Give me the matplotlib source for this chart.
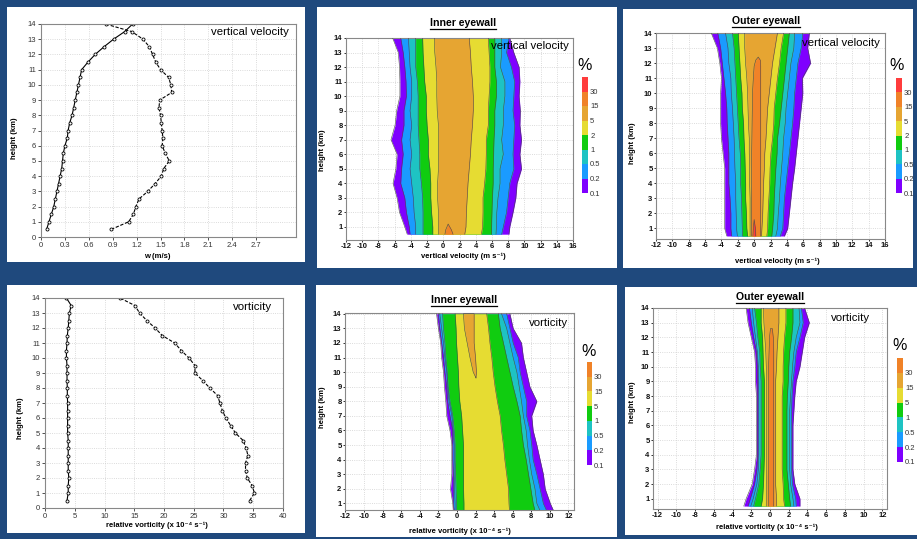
import numpy as np
import matplotlib
matplotlib.use('Agg')
import matplotlib.pyplot as plt
from matplotlib.patches import Rectangle
from matplotlib.lines import Line2D

plt.rcParams['font.family'] = ['Liberation Sans', 'DejaVu Sans']
plt.rcParams['axes.unicode_minus'] = False

W, H = 917, 539
BG = '#1F497D'

# ---------------- mean profiles (left column) ----------------
h_prof = [0.5, 1, 1.5, 2, 2.5, 3, 3.5, 4, 4.5, 5, 5.5, 6, 6.5, 7, 7.5,
          8, 8.5, 9, 9.5, 10, 10.5, 11, 11.5, 12, 12.5, 13, 13.5, 14]
w_left = [0.07, 0.10, 0.13, 0.16, 0.18, 0.20, 0.22, 0.24, 0.26, 0.27, 0.28, 0.30, 0.33, 0.34,
          0.36, 0.39, 0.41, 0.43, 0.45, 0.47, 0.49, 0.51, 0.59, 0.68, 0.79, 0.91, 1.05, 1.15]
w_right = [0.88, 1.10, 1.16, 1.19, 1.23, 1.34, 1.43, 1.51, 1.54, 1.61, 1.56, 1.52, 1.53, 1.52,
           1.51, 1.50, 1.48, 1.49, 1.64, 1.63, 1.60, 1.50, 1.44, 1.40, 1.36, 1.28, 1.14, 0.81]
vort_left = [3.7, 3.9, 3.9, 4.0, 3.9, 3.9, 3.9, 3.9, 3.9, 3.8, 3.8, 3.8, 3.8, 3.8,
             3.75, 3.75, 3.7, 3.7, 3.7, 3.6, 3.6, 3.7, 3.75, 3.9, 4.0, 4.1, 4.4, 3.6]
vort_right = [34.4, 35.2, 34.8, 34.0, 33.7, 33.7, 34.1, 33.8, 33.3, 32.0, 31.2, 30.4, 29.8, 29.4,
              29.0, 27.7, 26.5, 25.2, 25.2, 24.2, 22.9, 21.8, 19.7, 18.5, 17.1, 15.9, 15.1, 12.6]
w_ticks = [0, 0.3, 0.6, 0.9, 1.2, 1.5, 1.8, 2.1, 2.4, 2.7]
w_ticklabels = ['0', '0.3', '0.6', '0.9', '1.2', '1.5', '1.8', '2.1', '2.4', '2.7']

# ---------------- CFAD contour edges (left/right edge of each band at h_cfad) ----------------
h_cfad = [0.5, 1, 2, 3, 4, 5, 6, 7, 8, 9, 10, 11, 12, 13, 14]

levels_w = ['0.1', '0.2', '0.5', '1', '2', '5', '15', '30']
colors_w = ['#7F00FF', '#1A9BFF', '#1EC3C3', '#10CC10', '#E6DC32', '#E6A532', '#F08228', '#FF3C3C']
levels_v = ['0.1', '0.2', '0.5', '1', '5', '15', '30']
colors_v = ['#7F00FF', '#1A9BFF', '#1EC3C3', '#10CC10', '#E6DC32', '#E6A532', '#F08228']

# inner eyewall, vertical velocity (bands 0.1 .. 5)
inner_w_left = [
    [-4.45, -4.75, -5.4, -5.7, -6.2, -5.85, -5.7, -6.45, -5.95, -5.75, -5.35, -5.35, -5.4, -5.55, -6.25],
    [-4.1, -4.2, -4.55, -4.75, -5.25, -5.15, -4.95, -5.15, -4.85, -4.85, -4.55, -4.6, -4.75, -4.95, -5.25],
    [-3.4, -3.4, -3.6, -3.7, -3.9, -4.1, -3.9, -4.1, -3.9, -4.1, -3.9, -3.9, -4.1, -4.2, -4.3],
    [-2.5, -2.5, -2.5, -2.55, -2.7, -2.9, -2.9, -3.0, -3.1, -3.1, -3.1, -3.2, -3.4, -3.4, -3.4],
    [-1.3, -1.3, -1.45, -1.55, -1.55, -1.65, -1.85, -1.85, -2.0, -2.1, -2.1, -2.3, -2.4, -2.5, -2.55],
    [-0.6, -0.6, -0.6, -0.7, -0.7, -0.6, -0.6, -0.6, -0.6, -0.75, -0.8, -0.8, -0.9, -1.05, -1.1],
]
inner_w_right = [
    [8.1, 8.2, 8.6, 8.95, 9.1, 9.65, 9.45, 9.65, 9.45, 9.5, 9.35, 9.45, 9.35, 8.7, 8.2],
    [7.2, 7.4, 7.8, 8.0, 8.2, 8.7, 8.6, 8.7, 8.8, 8.6, 8.7, 8.8, 8.4, 7.8, 8.1],
    [6.5, 6.55, 6.6, 6.75, 7.0, 7.0, 7.4, 7.2, 7.4, 7.4, 7.6, 7.6, 7.05, 7.2, 7.2],
    [5.95, 5.95, 6.0, 6.05, 6.15, 6.15, 6.2, 6.25, 6.35, 6.35, 6.55, 6.55, 6.35, 6.35, 6.35],
    [4.7, 4.85, 4.9, 4.9, 5.1, 5.25, 5.3, 5.3, 5.55, 5.55, 5.65, 5.75, 5.75, 5.65, 5.55],
    [2.65, 2.8, 2.85, 2.95, 3.05, 3.2, 3.35, 3.45, 3.6, 3.7, 3.7, 3.6, 3.45, 3.35, 3.2],
]
inner_w_15_h = [0.5, 0.8, 1.2]
inner_w_15_left = [0.2, 0.3, 0.6]
inner_w_15_right = [1.2, 1.0, 0.6]

# outer eyewall, vertical velocity
outer_w_left = [
    [-3.35, -3.6, -3.6, -3.6, -3.6, -3.6, -3.8, -4.0, -4.1, -4.1, -4.1, -4.0, -4.2, -4.5, -5.25],
    [-2.75, -2.85, -2.85, -2.95, -3.1, -3.1, -3.1, -3.2, -3.3, -3.35, -3.5, -3.7, -3.9, -4.1, -4.45],
    [-2.05, -2.15, -2.2, -2.25, -2.25, -2.35, -2.4, -2.45, -2.55, -2.65, -2.8, -2.85, -3.1, -3.2, -3.5],
    [-1.45, -1.45, -1.5, -1.55, -1.65, -1.65, -1.7, -1.85, -1.95, -2.05, -2.15, -2.25, -2.35, -2.45, -2.65],
    [-0.8, -0.9, -0.95, -1.05, -1.05, -1.1, -1.15, -1.25, -1.3, -1.45, -1.5, -1.65, -1.75, -1.85, -1.95],
    [-0.5, -0.5, -0.5, -0.5, -0.55, -0.55, -0.6, -0.6, -0.7, -0.75, -0.8, -0.9, -1.05, -1.15, -1.15],
]
outer_w_right = [
    [3.7, 4.1, 4.3, 4.5, 4.7, 4.95, 5.15, 5.35, 5.55, 5.75, 5.95, 5.9, 6.9, 6.55, 6.75],
    [3.2, 3.5, 3.6, 3.7, 3.9, 4.1, 4.3, 4.5, 4.7, 4.85, 4.95, 5.15, 5.35, 5.75, 5.95],
    [2.65, 2.85, 2.95, 3.1, 3.2, 3.35, 3.5, 3.6, 3.8, 3.9, 4.1, 4.3, 4.5, 4.85, 4.95],
    [2.15, 2.25, 2.4, 2.45, 2.55, 2.65, 2.8, 2.85, 3.1, 3.3, 3.5, 3.7, 3.9, 4.1, 4.3],
    [1.55, 1.65, 1.7, 1.8, 1.9, 1.95, 2.05, 2.25, 2.4, 2.45, 2.65, 2.85, 3.1, 3.3, 3.6],
    [0.9, 0.95, 1.05, 1.1, 1.15, 1.25, 1.3, 1.45, 1.55, 1.65, 1.85, 2.05, 2.25, 2.55, 2.85],
]
outer_w_15_h = [0.5, 1, 2, 4, 6, 8, 10, 11, 11.8, 12.2, 12.4]
outer_w_15_left = [-0.35, -0.35, -0.35, -0.3, -0.3, -0.25, -0.2, -0.1, 0.0, 0.2, 0.5]
outer_w_15_right = [0.75, 0.75, 0.75, 0.75, 0.8, 0.8, 0.8, 0.8, 0.8, 0.75, 0.5]
outer_w_30_h = [0.5, 1.0, 1.6]
outer_w_30_left = [-0.15, -0.1, 0.0]
outer_w_30_right = [0.2, 0.15, 0.0]

# inner eyewall, vorticity (bands 0.1 .. 5)
inner_v_left = [
    [-0.4, -0.45, -0.7, -0.55, -0.55, -0.55, -0.75, -1.1, -1.2, -1.35, -1.45, -1.65, -1.75, -2.0, -2.2],
    [-0.3, -0.4, -0.4, -0.4, -0.45, -0.45, -0.45, -0.75, -1.0, -1.1, -1.3, -1.45, -1.65, -1.85, -2.0],
    [-0.2, -0.2, -0.25, -0.3, -0.3, -0.3, -0.4, -0.55, -0.85, -1.0, -1.1, -1.3, -1.45, -1.65, -1.85],
    [-0.05, -0.05, -0.1, -0.15, -0.2, -0.2, -0.3, -0.45, -0.75, -0.95, -1.05, -1.2, -1.3, -1.45, -1.55],
    [0.75, 0.75, 0.7, 0.7, 0.7, 0.7, 0.6, 0.5, 0.3, 0.2, 0.15, 0.05, -0.05, -0.1, -0.2],
]
inner_v_right = [
    [10.4, 10.05, 9.5, 9.3, 8.95, 8.6, 8.2, 8.05, 8.6, 7.85, 7.5, 7.15, 6.95, 6.05, 5.7],
    [9.65, 9.3, 8.95, 8.6, 8.2, 8.05, 7.85, 7.5, 7.5, 7.15, 6.8, 6.6, 6.05, 5.7, 5.35],
    [8.95, 8.6, 8.4, 8.05, 7.8, 7.6, 7.45, 7.15, 6.95, 6.7, 6.45, 6.05, 5.7, 5.35, 4.8],
    [8.4, 8.2, 7.95, 7.7, 7.45, 7.15, 6.95, 6.8, 6.45, 6.05, 5.7, 5.35, 5.0, 4.65, 4.45],
    [5.65, 5.6, 5.55, 5.35, 5.15, 5.0, 4.8, 4.65, 4.35, 4.1, 3.9, 3.75, 3.55, 3.4, 3.2],
]
inner_v_15_h = [9.6, 10, 11, 12, 13, 14]
inner_v_15_left = [2.05, 1.75, 1.4, 1.1, 0.8, 0.7]
inner_v_15_right = [2.05, 2.1, 2.0, 1.85, 1.85, 1.85]

# outer eyewall, vorticity (bands 0.1 .. 15)
outer_v_left = [
    [-2.8, -2.55, -1.9, -1.65, -1.45, -1.45, -1.45, -1.45, -1.45, -1.55, -1.55, -1.65, -2.0, -2.35, -2.55],
    [-2.35, -2.1, -1.65, -1.4, -1.3, -1.3, -1.3, -1.3, -1.3, -1.3, -1.35, -1.45, -1.75, -2.0, -2.2],
    [-2.05, -1.8, -1.4, -1.25, -1.2, -1.2, -1.2, -1.2, -1.2, -1.2, -1.25, -1.35, -1.55, -1.75, -1.9],
    [-1.75, -1.55, -1.2, -1.05, -0.95, -0.95, -0.95, -0.95, -0.95, -0.95, -1.05, -1.1, -1.3, -1.45, -1.65],
    [-0.95, -0.8, -0.7, -0.65, -0.6, -0.6, -0.6, -0.6, -0.6, -0.6, -0.7, -0.75, -0.8, -0.95, -0.95],
    [-0.4, -0.4, -0.4, -0.35, -0.35, -0.35, -0.35, -0.35, -0.35, -0.35, -0.4, -0.45, -0.55, -0.65, -0.7],
]
outer_v_right = [
    [3.2, 3.2, 2.65, 2.45, 2.45, 2.45, 2.45, 2.55, 2.65, 2.8, 3.2, 3.45, 3.7, 4.2, 3.7],
    [2.8, 2.75, 2.4, 2.3, 2.3, 2.3, 2.3, 2.3, 2.35, 2.45, 2.65, 2.8, 3.2, 3.55, 3.35],
    [2.55, 2.45, 2.2, 2.1, 2.1, 2.1, 2.1, 2.1, 2.2, 2.3, 2.4, 2.55, 2.8, 3.2, 3.1],
    [2.2, 2.1, 1.95, 1.8, 1.8, 1.8, 1.8, 1.8, 1.85, 1.95, 2.0, 2.1, 2.3, 2.45, 2.45],
    [1.55, 1.45, 1.4, 1.3, 1.3, 1.3, 1.3, 1.3, 1.3, 1.4, 1.4, 1.45, 1.55, 1.7, 1.7],
    [0.7, 0.7, 0.6, 0.6, 0.6, 0.6, 0.6, 0.6, 0.6, 0.6, 0.7, 0.75, 0.85, 0.95, 0.95],
]
outer_v_30_h = [0.5, 1, 2, 4, 6, 8, 10, 11, 12, 12.6]
outer_v_30_left = [-0.15, -0.15, -0.15, -0.15, -0.15, -0.15, -0.15, -0.1, -0.05, 0.05]
outer_v_30_right = [0.4, 0.4, 0.4, 0.4, 0.4, 0.4, 0.4, 0.4, 0.35, 0.25]


def rect(x0, y0, x1, y1):
    return [x0 / W, 1 - y1 / H, (x1 - x0) / W, (y1 - y0) / H]


def ftext(px, py, s, **kw):
    fig.text(px / W, 1 - py / H, s, **kw)


fig = plt.figure(figsize=(W / 100, H / 100), dpi=100, facecolor=BG)

# white panels
for x0, y0, x1, y1 in [(7, 7, 305, 262), (317, 7, 617, 268), (623, 9, 913, 268),
                       (7, 285, 305, 533), (316, 285, 617, 537), (625, 287, 917, 535)]:
    r = rect(x0, y0, x1, y1)
    fig.add_artist(Rectangle((r[0], r[1]), r[2], r[3], transform=fig.transFigure,
                             facecolor='white', edgecolor='none', zorder=-5))


def style_axes(ax, bold):
    for s in ax.spines.values():
        s.set_color('#888888')
        s.set_linewidth(0.8)
    ax.grid(True, color='#cfcfcf', linestyle=':', linewidth=0.6)
    ax.set_axisbelow(True)
    if bold:
        ax.tick_params(labelsize=5.5, length=1.5, width=0.6, pad=1, colors='#111111')
        for lab in ax.get_xticklabels() + ax.get_yticklabels():
            lab.set_fontweight('bold')
    else:
        ax.tick_params(labelsize=5.5, length=2, width=0.6, pad=1.5, colors='#333333')


def profile(ax, xl, xr):
    ax.plot(xl, h_prof, color='black', lw=0.8, marker='o', ms=2.2,
            mfc='white', mec='black', mew=0.6)
    ax.plot(xr, h_prof, color='black', lw=0.8, ls=(0, (3, 1.5)), marker='o', ms=2.2,
            mfc='white', mec='black', mew=0.6)
    ax.set_ylim(0, 14)
    ax.set_yticks(range(0, 15))


def band(ax, h, L, R, c):
    ax.fill_betweenx(h, L, R, color=c, lw=0, zorder=2)
    ax.plot(L, h, color='#4a4a4a', lw=0.4, zorder=3)
    ax.plot(R, h, color='#4a4a4a', lw=0.4, zorder=3)


def blob(ax, h, L, R, c):
    ax.fill_betweenx(h, L, R, color=c, lw=0, zorder=2)
    ax.plot(list(L) + list(R[::-1]), list(h) + list(h[::-1]), color='#4a4a4a', lw=0.4, zorder=3)


def cfad(ax, lefts, rights, colors, blobs):
    for L, R, c in zip(lefts, rights, colors):
        band(ax, h_cfad, L, R, c)
    for h, L, R, c in blobs:
        blob(ax, h, L, R, c)
    ax.set_yticks(range(1, 15))


def colorbar(r, colors, labels):
    cax = fig.add_axes(r)
    n = len(colors)
    cax.bar(np.zeros(n), np.ones(n), bottom=np.arange(n), color=colors, width=1.0)
    cax.set_xlim(-0.5, 0.5)
    cax.set_ylim(0, n)
    cax.set_xticks([])
    cax.set_yticks(np.arange(n))
    cax.set_yticklabels(labels)
    cax.yaxis.tick_right()
    cax.tick_params(length=0, labelsize=5.5, pad=1.5, colors='#333333')
    for s in cax.spines.values():
        s.set_visible(False)


titles = []
NOTE = 8.2

# ---- panel 1: vertical velocity profile
ax1 = fig.add_axes(rect(41, 24, 296, 237))
profile(ax1, w_left, w_right)
ax1.set_xlim(0, 3.2)
ax1.set_xticks(w_ticks)
ax1.set_xticklabels(w_ticklabels)
style_axes(ax1, False)
ftext(289, 32, 'vertical velocity', fontsize=NOTE, ha='right', va='center')
ftext(157, 256, 'w (m/s)', fontsize=5.5, fontweight='bold', ha='center', va='center')
ftext(15, 138, 'height (km)', fontsize=5.5, fontweight='bold', ha='center', va='center', rotation=90)

# ---- panel 4: vorticity profile
ax4 = fig.add_axes(rect(45, 298, 283, 508))
profile(ax4, vort_left, vort_right)
ax4.set_xlim(0, 40)
ax4.set_xticks(range(0, 41, 5))
style_axes(ax4, False)
ftext(272, 307, 'vorticity', fontsize=NOTE, ha='right', va='center')
ftext(157, 525, 'relative vorticity (x 10⁻⁴ s⁻¹)', fontsize=5.5, fontweight='bold', ha='center', va='center')
ftext(20, 418, 'height (km)', fontsize=5.5, fontweight='bold', ha='center', va='center', rotation=90)

# ---- panel 2: inner eyewall w
ax2 = fig.add_axes(rect(346, 38, 573, 240))
cfad(ax2, inner_w_left, inner_w_right, colors_w[:6],
     [(inner_w_15_h, inner_w_15_left, inner_w_15_right, colors_w[6])])
ax2.set_xlim(-12, 16)
ax2.set_ylim(0.1, 14)
ax2.set_xticks(range(-12, 17, 2))
style_axes(ax2, True)
ftext(569, 46, 'vertical velocity', fontsize=NOTE, ha='right', va='center', zorder=10)
ftext(463, 256, 'vertical velocity (m s⁻¹)', fontsize=5.5, fontweight='bold', ha='center', va='center')
ftext(322, 150, 'height (km)', fontsize=5.5, fontweight='bold', ha='center', va='center', rotation=90)
colorbar(rect(582, 77, 588, 193), colors_w, levels_w)
ftext(585, 66, '%', fontsize=11.5, ha='center', va='center')
titles.append((463, 23, 'Inner eyewall'))

# ---- panel 3: outer eyewall w
ax3 = fig.add_axes(rect(656, 33, 885, 239))
cfad(ax3, outer_w_left, outer_w_right, colors_w[:6],
     [(outer_w_15_h, outer_w_15_left, outer_w_15_right, colors_w[6]),
      (outer_w_30_h, outer_w_30_left, outer_w_30_right, colors_w[7])])
ax3.set_xlim(-12, 16)
ax3.set_ylim(0.3, 14)
ax3.set_xticks(range(-12, 17, 2))
style_axes(ax3, True)
ftext(880, 43, 'vertical velocity', fontsize=NOTE, ha='right', va='center')
ftext(777, 261, 'vertical velocity (m s⁻¹)', fontsize=5.5, fontweight='bold', ha='center', va='center')
ftext(633, 143, 'height (km)', fontsize=5.5, fontweight='bold', ha='center', va='center', rotation=90)
colorbar(rect(896, 78, 902, 193), colors_w, levels_w)
ftext(897, 66, '%', fontsize=11.5, ha='center', va='center')
titles.append((766, 21, 'Outer eyewall'))

# ---- panel 5: inner eyewall vorticity
ax5 = fig.add_axes(rect(345, 313, 574, 510))
cfad(ax5, inner_v_left, inner_v_right, colors_v[:5],
     [(inner_v_15_h, inner_v_15_left, inner_v_15_right, colors_v[5])])
ax5.set_xlim(-12.05, 12.6)
ax5.set_ylim(0.55, 14.05)
ax5.set_xticks(range(-12, 13, 2))
style_axes(ax5, True)
ftext(568, 323, 'vorticity', fontsize=NOTE, ha='right', va='center')
ftext(460, 531, 'relative vorticity (x 10⁻⁴ s⁻¹)', fontsize=5.5, fontweight='bold', ha='center', va='center')
ftext(322, 407, 'height (km)', fontsize=5.5, fontweight='bold', ha='center', va='center', rotation=90)
colorbar(rect(587, 362, 592, 465), colors_v, levels_v)
ftext(589, 351, '%', fontsize=11.5, ha='center', va='center')
titles.append((464, 300, 'Inner eyewall'))

# ---- panel 6: outer eyewall vorticity
ax6 = fig.add_axes(rect(653, 308, 887, 509))
cfad(ax6, outer_v_left, outer_v_right, colors_v[:6],
     [(outer_v_30_h, outer_v_30_left, outer_v_30_right, colors_v[6])])
ax6.set_xlim(-12.5, 12.5)
ax6.set_ylim(0.3, 14)
ax6.set_xticks(range(-12, 13, 2))
style_axes(ax6, True)
ftext(870, 318, 'vorticity', fontsize=NOTE, ha='right', va='center')
ftext(767, 527, 'relative vorticity (x 10⁻⁴ s⁻¹)', fontsize=5.5, fontweight='bold', ha='center', va='center')
ftext(632, 402, 'height (km)', fontsize=5.5, fontweight='bold', ha='center', va='center', rotation=90)
colorbar(rect(897, 358, 903, 462), colors_v, levels_v)
ftext(900, 346, '%', fontsize=11.5, ha='center', va='center')
titles.append((770, 297, 'Outer eyewall'))

# underlined bold titles
renderer = fig.canvas.get_renderer()
for px, py, s in titles:
    t = fig.text(px / W, 1 - py / H, s, fontsize=7.6, fontweight='bold', ha='center', va='center')
    bb = t.get_window_extent(renderer=renderer)
    yl = (bb.y0 - 0.5) / fig.bbox.height
    fig.add_artist(Line2D([bb.x0 / fig.bbox.width, bb.x1 / fig.bbox.width], [yl, yl],
                          transform=fig.transFigure, color='black', lw=0.9))

fig.savefig('out.png', dpi=100, facecolor=BG)
